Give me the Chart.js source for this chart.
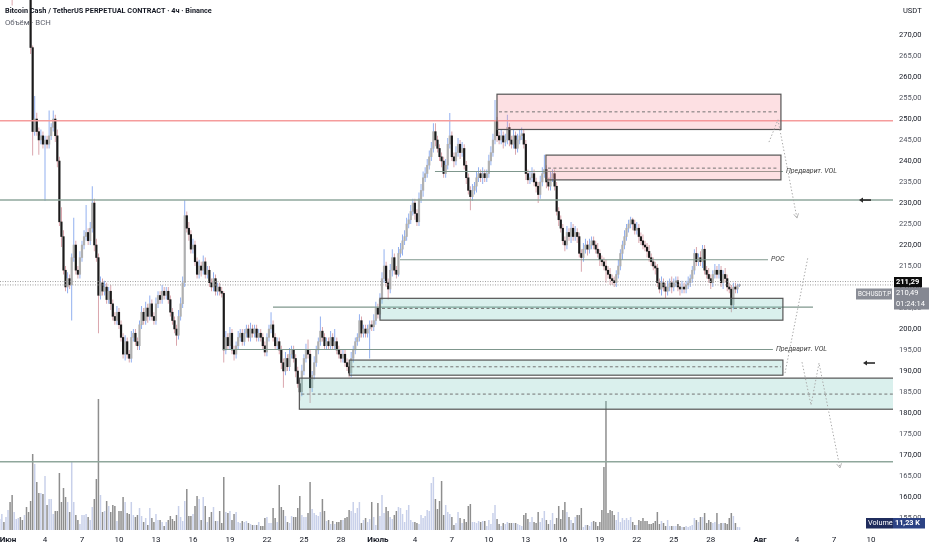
<!DOCTYPE html>
<html>
<head>
<meta charset="utf-8">
<title>BCHUSDT.P 4h</title>
<script src="https://cdn.jsdelivr.net/npm/chart.js@4.4.1/dist/chart.umd.min.js"></script>
<style>
  html, body { margin: 0; padding: 0; background: #fff; overflow: hidden; }
  canvas { display: block; }
</style>
</head>
<body>
<canvas id="c" width="932" height="550" style="width:932px;height:550px"></canvas>
<script>
/* BCHUSDT.P perpetual, 4h candles, 31 May → 30 Jul, with the zone drawings on top.
   Time is counted in days from 1 June 00:00; candle i sits at T0 + i * STEP. */
const FONT = "Roboto, 'Noto Sans', sans-serif";
const T0 = -2 / 3;        // first candle: 31 May 08:00
const STEP = 1 / 6;       // 4 hours
const firstOpen = 284;

// closes (the first 15 candles sit above the visible range)
const closes = [
  286, 287, 285, 288, 289, 286, 283, 284, 286, 287,
  285, 284, 286, 285, 282, 267, 247, 250, 247, 245,
  246, 244, 245, 244, 246, 248, 250, 246, 240, 225.5,
  222, 214, 210, 212, 210.5, 217, 220, 214, 213, 217,
  220, 222, 223, 221, 224, 230, 220, 217, 208, 211,
  209, 210, 207, 209, 206, 203, 202, 204, 201, 198,
  194, 197, 194, 193, 198, 199, 197, 196, 201, 204,
  202, 205, 203, 206, 203, 202, 206, 208, 207, 209,
  208, 209, 207, 204, 202, 200, 198.5, 203, 206, 211,
  227, 224, 222.5, 219, 220, 216, 213, 215, 214, 216,
  213, 214, 211, 210, 212, 209, 210, 209, 208.5, 195,
  198, 196, 199, 195, 194, 196, 198, 199, 197, 199,
  200, 198, 200, 199, 200, 198, 199, 198, 196, 194.5,
  198, 200, 201, 198, 196, 197, 195, 192, 190, 193,
  191, 194, 195, 193, 190, 187, 185, 190, 193, 195,
  194, 186, 189, 192, 195, 197, 199.5, 198, 196, 197,
  196, 198, 196, 197, 195, 194, 193, 194, 192, 191,
  189.5, 193, 195, 197, 198, 202, 199, 200, 199, 200,
  201, 200.5, 202, 205, 203.5, 207, 212, 215, 211, 209.5,
  214, 217, 214, 213, 218, 219, 221, 222, 225, 226,
  228, 230, 227.5, 225.5, 231, 233, 236, 237, 239, 241,
  243, 247, 245, 243, 241, 240, 237, 239, 244, 246,
  241, 240, 242, 244, 242, 243, 239, 236, 233, 231.5,
  233, 234, 236, 237, 236, 237, 236, 237, 240, 242,
  245, 249.5, 246, 245, 246, 244.5, 245, 248, 245, 244,
  246, 243, 245, 246, 246.5, 244, 237, 235.5, 236, 237,
  235, 234, 232, 235, 237, 238, 235, 234, 236, 237,
  234, 228, 226, 224, 221, 220, 223, 222, 224, 222,
  223, 222, 218, 217, 219, 220, 219, 220, 221, 220,
  219, 218, 216.5, 216, 215, 214, 213, 212, 211.5, 211,
  213, 215, 218, 220, 222, 224, 225, 226, 225, 223.5,
  224, 222, 221, 220, 219.5, 218.5, 217, 216, 215, 214.5,
  211, 209.5, 211, 210, 209, 210, 211, 210, 211, 211.5,
  210, 209.5, 210, 209.5, 210.5, 211, 212, 214, 218, 216,
  217, 216, 219, 214, 213, 212, 211, 213, 214, 213,
  214, 211, 213, 212, 210, 209.5, 205.7, 210, 209.5, 210.3,
  210.49
];

// wick lengths beyond the body, in USDT
const wickUp = [
  1, 1.5, 1, 1, 2, 1, 1, 1.5, 1, 1,
  1, 1, 1.5, 1, 1, 1, 0.5, 5.5, 1.5, 1,
  1.5, 1, 1, 1, 6, 1, 2, 1, 1.5, 1,
  3.5, 1.5, 1, 1.5, 1, 1, 6.5, 1, 1, 1.5,
  1, 1.5, 6.5, 1, 1.5, 4, 1, 1.5, 1, 1.5,
  1, 1.5, 1, 1, 1.5, 1, 1, 1.5, 1, 1,
  1, 1.5, 1, 1, 1.5, 1, 1, 1, 1, 1.5,
  1, 1.5, 1, 2, 1, 1, 1.5, 1, 1, 1.5,
  1, 1, 1, 1, 1, 1, 1, 1.5, 1.5, 1.5,
  3.7, 1, 1.5, 1, 1.5, 1, 1, 1.5, 1, 1.5,
  1, 1, 1, 1, 1.5, 1, 1, 1, 1, 0.5,
  1.5, 1, 1.5, 1, 1, 1, 1.5, 1, 1, 1,
  1, 1, 1.5, 1, 1, 1, 1, 1, 1, 1,
  1, 1, 3, 1, 1, 1, 1, 1, 1, 1.5,
  1, 1.5, 1, 1, 1, 1, 1, 1.5, 1, 1.5,
  2.5, 1, 1, 1.5, 1, 1, 3.5, 1, 1, 1,
  1, 1.5, 1, 3, 1, 1, 1, 1, 1, 1,
  1, 1.5, 1, 1, 1, 1.5, 1, 1, 1, 1,
  1, 1, 1.5, 1.5, 1, 1.5, 1.5, 4, 1, 1,
  1.5, 2, 1, 1, 1.5, 1.5, 1.5, 1.5, 1.5, 1.5,
  1.5, 1, 1, 1, 1.5, 1.5, 1.5, 1.5, 1.5, 1.5,
  1.5, 2, 2, 1, 1, 1, 1, 1.5, 1.5, 5.4,
  1, 1, 1.5, 1.5, 1, 1.5, 1, 1, 1, 1,
  1.5, 1, 1.5, 1.5, 1, 1.5, 1, 1, 1.5, 1.5,
  1.5, 5, 1, 1, 1.5, 1, 1.5, 3, 1, 1,
  1.5, 1, 1.5, 1.5, 1.5, 1, 1, 1, 1.5, 1.5,
  1, 1, 1, 1.5, 1.5, 3.5, 1, 1, 1.5, 1,
  1, 1, 1, 1, 1, 1, 1.5, 1, 1.5, 1,
  1.5, 1, 1, 1, 1.5, 1.5, 1, 1.5, 1, 1,
  1, 1.5, 1, 1, 1, 1.5, 1, 1.5, 1, 1,
  1, 1.5, 1, 1, 1.5, 1, 1, 0.7, 0.5, 1,
  1.5, 1, 1, 1.5, 1, 1, 1.5, 1, 1, 1,
  1, 1, 1.5, 1, 1, 1.5, 1, 1.5, 1, 1,
  1, 1, 1.5, 1, 1, 1.5, 1, 1, 1, 1.5,
  1, 1.5, 1, 1, 1, 1.5, 1, 1, 1.5, 1,
  1.5, 1, 1, 1.5, 1, 1, 1, 1, 1, 0.5,
  0.3
];
const wickDn = [
  1, 1, 1.5, 1, 1, 1, 6, 1, 1, 1,
  1.5, 1, 1, 1, 1.5, 1.5, 5.7, 1, 1, 3.5,
  1, 1, 13.5, 1, 1, 1, 1, 1.5, 1.5, 1,
  2.5, 1, 1, 1.5, 1, 8.5, 1, 1, 1, 1,
  1, 1, 1, 1, 1, 1, 1.5, 1, 9, 1,
  1, 1, 1, 1, 1.5, 1, 1, 1, 1, 1,
  1, 1.5, 1, 1, 1, 1, 1, 1, 1, 1,
  1, 1, 1.5, 1, 1, 1, 1, 1, 1, 1,
  1, 1, 1, 1, 1, 1, 2.5, 1, 1, 1,
  1, 1, 1.5, 1, 1, 1, 1, 1, 1.5, 1,
  1, 1, 1, 1, 1, 1, 1, 1, 1, 3,
  1, 1, 1, 1, 1.5, 1, 1, 1, 1, 1,
  1, 1, 1, 1, 1, 1, 1, 1, 1, 1,
  1, 1, 1, 1, 1, 1, 1, 1.5, 4, 1,
  1, 1, 1, 1, 1.5, 1, 2, 1, 1, 1,
  1, 3.6, 1, 1, 1, 1, 1, 1, 1, 1,
  1, 1, 1, 1, 1, 1, 1, 1, 1, 1,
  1, 1, 1, 1, 1, 1, 1, 1, 1, 1,
  7, 1, 1, 1, 1, 1, 1, 1, 1, 2.5,
  1, 1.5, 1, 1, 0.5, 1, 1.5, 1, 1, 1,
  1, 1, 1.5, 1, 1, 1, 1.5, 1, 1, 1,
  1, 1, 1.5, 1, 1, 1.5, 1, 1, 1, 1,
  1, 1.5, 1, 1, 1.5, 1, 1, 1.5, 1, 3.2,
  1, 1, 1.5, 1, 1, 1.5, 1, 1, 1, 1,
  1, 1, 1.5, 1, 1, 1.5, 1, 1, 1.5, 1,
  1, 1.5, 1, 1, 1, 1, 1.5, 1, 1, 1,
  1, 1.5, 2, 1, 1, 1, 1.5, 1, 1, 1,
  1, 1, 1.5, 1, 1, 1.5, 1, 1, 1.5, 1,
  1, 1.5, 1, 3.4, 1, 1, 1.5, 1, 1, 1,
  1, 1, 1.5, 1, 1, 3, 1, 1.5, 1, 1,
  1, 1, 1, 1.5, 1, 1, 1, 1, 1.5, 1,
  1, 1.5, 1, 1, 1, 1.5, 1, 1, 1, 1.5,
  1, 1, 1.5, 1, 1.6, 1, 1, 1.5, 1, 1,
  1, 1.5, 1, 1, 1, 1, 1, 1, 1, 1,
  1, 1, 1.5, 1, 1, 1, 1.5, 1, 1, 1,
  1, 1, 1.5, 1, 1, 1, 1.7, 1, 1, 1,
  0.3
];

// volume per candle, thousands of BCH
const volumeK = [
  44, 64, 32, 52, 80, 112, 140, 72, 44, 48,
  52, 40, 60, 92, 72, 116, 304, 264, 192, 148,
  148, 144, 216, 100, 124, 124, 64, 76, 76, 228,
  112, 168, 132, 112, 72, 272, 112, 60, 40, 24,
  60, 60, 64, 52, 40, 92, 124, 204, 524, 140,
  72, 76, 116, 96, 72, 100, 96, 36, 76, 76,
  132, 112, 68, 64, 112, 60, 52, 60, 88, 56,
  32, 48, 20, 88, 48, 32, 64, 40, 40, 32,
  16, 32, 40, 56, 44, 36, 60, 96, 52, 36,
  116, 164, 56, 56, 64, 96, 136, 124, 40, 132,
  96, 32, 52, 72, 92, 36, 36, 76, 28, 212,
  72, 68, 76, 40, 64, 72, 32, 28, 36, 32,
  36, 28, 24, 20, 20, 20, 32, 16, 16, 48,
  52, 28, 28, 88, 48, 32, 180, 92, 80, 56,
  32, 28, 56, 52, 52, 88, 136, 60, 52, 52,
  68, 192, 84, 68, 60, 56, 72, 124, 76, 36,
  40, 24, 36, 24, 32, 32, 40, 40, 48, 52,
  80, 76, 112, 68, 88, 112, 28, 40, 48, 32,
  44, 112, 52, 20, 108, 56, 140, 68, 92, 76,
  52, 44, 60, 76, 92, 88, 64, 32, 80, 100,
  40, 32, 32, 28, 24, 60, 48, 56, 80, 76,
  188, 212, 124, 84, 116, 196, 60, 100, 72, 64,
  52, 20, 28, 72, 48, 28, 44, 32, 96, 104,
  32, 32, 28, 36, 32, 36, 36, 16, 40, 24,
  68, 100, 44, 24, 16, 28, 24, 32, 28, 28,
  28, 28, 24, 20, 16, 60, 68, 44, 32, 52,
  32, 28, 72, 32, 48, 76, 40, 24, 40, 68,
  24, 48, 96, 44, 80, 112, 72, 52, 40, 28,
  52, 60, 60, 88, 12, 20, 20, 16, 32, 36,
  32, 16, 32, 80, 252, 516, 68, 80, 76, 60,
  40, 72, 32, 48, 40, 48, 40, 52, 32, 20,
  20, 40, 36, 48, 36, 36, 24, 24, 28, 36,
  72, 24, 36, 28, 16, 40, 16, 16, 16, 16,
  24, 16, 12, 12, 16, 12, 16, 20, 48, 40,
  32, 52, 52, 68, 28, 40, 32, 28, 32, 68,
  24, 28, 28, 28, 24, 48, 68, 56, 28, 12,
  11.23
];

// time axis: days from 1 June and their labels
const tickDays   = [0, 3, 6, 9, 12, 15, 18, 21, 24, 27, 30, 33, 36, 39, 42, 45, 48, 51, 54, 57, 61, 64, 67, 70];
const tickLabels = ["Июн", "4", "7", "10", "13", "16", "19", "22", "25", "28",
                    "Июль", "4", "7", "10", "13", "16", "19", "22", "25", "28",
                    "Авг", "4", "7", "10"];
const monthTicks = [0, 10, 20];
const priceTicks = [155, 160, 165, 170, 175, 180, 185, 190, 195, 200, 205, 210,
                    215, 220, 225, 230, 235, 240, 245, 250, 255, 260, 265, 270];

// drawings (days, price)
const redLevel = 249.6;
const greenLevels = [230.7, 168.4];
const zones = [            // [from, to, top, bottom, middle, side]
  [39.66, 62.69, 255.9, 247.5, 251.7, "supply"],
  [43.63, 62.69, 241.4, 235.5, 238.3, "supply"],
  [30.17, 62.85, 207.3, 202.1, 204.9, "demand"],
  [27.68, 62.85, 192.6, 189.0, 191.0, "demand"],
  [23.63, 80.00, 188.3, 180.9, 184.5, "demand"],
];
const rays = [             // [from, to, price, label]
  [34.63, 62.85, 237.5, "Предварит. VOL"],
  [31.79, 61.64, 216.5, "POC"],
  [21.49, 65.29, 205.2, ""],
  [17.44, 62.04, 195.1, "Предварит. VOL"],
];
const paths = [            // dotted projections, [points, arrow at end]
  [[[61.72, 244.5], [62.45, 249.8], [63.99, 226.4]], true],
  [[[63.02, 189.5], [64.88, 217.1]], false],
  [[[64.40, 192.1], [65.13, 181.9], [65.78, 191.9], [67.48, 166.9]], true],
];
const alertPrices = [230.7, 191.9];
const markPrice = 211.29;
const countdown = "01:24:14";

const VIEW_FROM = -0.65, VIEW_TO = 71.78;
const PRICE_MIN = 152.14, PRICE_MAX = 278.33;
const VOL_MAX = 2120;

const N = closes.length;
const opens = closes.map((c, i) => (i ? closes[i - 1] : firstOpen));
const isUp = closes.map((c, i) => c >= opens[i]);
const xs = closes.map((c, i) => T0 + i * STEP);
const highs = closes.map((c, i) => Math.max(c, opens[i]) + wickUp[i]);
const lows = closes.map((c, i) => Math.min(c, opens[i]) - wickDn[i]);
const fmt = v => v.toFixed(2).replace(".", ",");

const UP_BODY = "#b0b0b0", DN_BODY = "#1b1b1b";
const UP_WICK = "#86a7ee", DN_WICK = "#d69ca4";
const UP_VOL = "#c8d0ea", DN_VOL = "#8e8e8e";

function seg(ctx, x1, y1, x2, y2) {
  ctx.beginPath(); ctx.moveTo(x1, y1); ctx.lineTo(x2, y2); ctx.stroke();
}
function tag(ctx, x, y, w, h, bg, lines, font) {
  ctx.fillStyle = bg;
  ctx.fillRect(x, y, w, h);
  ctx.fillStyle = "#fff";
  ctx.font = font;
  ctx.textAlign = "left";
  ctx.textBaseline = "middle";
  lines.forEach((t, k) => ctx.fillText(t, x + 2, y + 5.5 + k * 11));
}

const overlay = {
  id: "overlay",
  afterDatasetsDraw(chart) {
    const { ctx, chartArea: a, scales: { x, y } } = chart;
    const X = d => x.getPixelForValue(d), Y = p => y.getPixelForValue(p);
    ctx.save();
    ctx.beginPath(); ctx.rect(a.left, a.top, a.right - a.left, a.bottom - a.top); ctx.clip();

    // last price / mark price dotted lines
    ctx.strokeStyle = "#9c9c9c"; ctx.lineWidth = 1; ctx.setLineDash([1, 1.5]);
    [markPrice, closes[N - 1]].forEach(p => seg(ctx, a.left, Y(p), a.right, Y(p)));

    // full-width levels
    ctx.setLineDash([]);
    ctx.strokeStyle = "#f59c9c"; ctx.lineWidth = 1.5;
    seg(ctx, a.left, Y(redLevel), a.right, Y(redLevel));
    ctx.strokeStyle = "#8fa79c"; ctx.lineWidth = 1.6;
    greenLevels.forEach(p => seg(ctx, a.left, Y(p), a.right, Y(p)));

    // rays with labels
    ctx.font = "italic 7px " + FONT; ctx.textBaseline = "middle"; ctx.textAlign = "left";
    rays.forEach(([d1, d2, p, label]) => {
      ctx.strokeStyle = "#7f978d"; ctx.lineWidth = 1.1;
      seg(ctx, X(d1), Y(p), X(d2), Y(p));
      if (label) { ctx.fillStyle = "#3c3c3c"; ctx.fillText(label, X(d2) + 3, Y(p)); }
    });

    // zones
    zones.forEach(([d1, d2, top, bot, mid, side]) => {
      const x1 = X(d1), x2 = Math.min(X(d2), a.right + 3), y1 = Y(top), y2 = Y(bot);
      ctx.fillStyle = side === "supply" ? "rgba(247,140,152,0.27)" : "rgba(118,200,188,0.27)";
      ctx.fillRect(x1, y1, x2 - x1, y2 - y1);
      ctx.setLineDash([]); ctx.strokeStyle = "#555"; ctx.lineWidth = 1.2;
      ctx.strokeRect(x1, y1, x2 - x1, y2 - y1);
      ctx.setLineDash([3, 2.5]); ctx.strokeStyle = "#747474"; ctx.lineWidth = 1;
      seg(ctx, x1 + 2, Y(mid), x2 - 2, Y(mid));
    });

    // dotted projections
    paths.forEach(([pts, arrow]) => {
      ctx.setLineDash([1.4, 2]); ctx.strokeStyle = "#a9a9a9"; ctx.lineWidth = 1;
      ctx.beginPath();
      pts.forEach(([d, p], k) => (k ? ctx.lineTo(X(d), Y(p)) : ctx.moveTo(X(d), Y(p))));
      ctx.stroke();
      if (arrow) {
        const [d0, p0] = pts[pts.length - 2], [d1, p1] = pts[pts.length - 1];
        const ex = X(d1), ey = Y(p1), ang = Math.atan2(ey - Y(p0), ex - X(d0));
        ctx.setLineDash([]); ctx.strokeStyle = "#b5b5b5";
        [-0.5, 0.5].forEach(s => seg(ctx, ex, ey, ex - 5 * Math.cos(ang + s), ey - 5 * Math.sin(ang + s)));
      }
    });

    // alert arrows next to the price scale
    ctx.setLineDash([]); ctx.strokeStyle = "#2a2a2a"; ctx.fillStyle = "#2a2a2a"; ctx.lineWidth = 1.6;
    alertPrices.forEach((p, k) => {
      const ax = a.right - 29 + k * 4, ay = Y(p);
      seg(ctx, ax - 2, ay, ax + 7, ay);
      ctx.beginPath(); ctx.moveTo(ax - 5, ay); ctx.lineTo(ax - 1, ay - 2.6); ctx.lineTo(ax - 1, ay + 2.6);
      ctx.closePath(); ctx.fill();
    });
    ctx.restore();
  },
  afterDraw(chart) {
    const { ctx, chartArea: a, scales: { y } } = chart;
    ctx.save();
    // header
    ctx.textAlign = "left"; ctx.textBaseline = "middle";
    ctx.fillStyle = "#131722"; ctx.font = "bold 7.3px " + FONT;
    ctx.fillText("Bitcoin Cash / TetherUS PERPETUAL CONTRACT · 4ч · Binance", 5, 11);
    ctx.fillStyle = "#5d606b"; ctx.font = "7.8px " + FONT;
    ctx.fillText("Объём · BCH", 5, 23);
    ctx.fillStyle = "#131722"; ctx.font = "7.5px " + FONT;
    ctx.fillText("USDT", a.right + 10, 11);

    // price tags
    const yMark = Math.round(y.getPixelForValue(markPrice));
    tag(ctx, a.right + 1, yMark - 5, 28, 10.5, "#0c0c0c", [fmt(markPrice)], "bold 7.5px " + FONT);
    const gTop = yMark + 5.5;
    tag(ctx, a.right + 1, gTop, 35, 22, "#858892", [fmt(closes[N - 1]), countdown], "7.5px " + FONT);
    tag(ctx, a.right - 37, gTop + 1, 36, 11, "#8a8d96", ["BCHUSDT.P"], "6.3px " + FONT);

    // volume legend
    const vb = a.bottom - 12;
    tag(ctx, a.right - 27, vb, 27, 10.5, "#1f2c5c", ["Volume"], "7.3px " + FONT);
    tag(ctx, a.right, vb, 32, 10.5, "#2c4284", [volumeK[N - 1].toFixed(2).replace(".", ",") + " K"], "bold 7.3px " + FONT);
    ctx.restore();
  }
};

Chart.defaults.font.family = FONT;

new Chart(document.getElementById("c"), {
  type: "bar",
  data: {
    datasets: [
      {
        label: "body", order: 0, yAxisID: "y", grouped: false,
        data: xs.map((d, i) => ({ x: d, y: [opens[i], closes[i]] })),
        backgroundColor: isUp.map(u => (u ? UP_BODY : DN_BODY)),
        barThickness: 1.7, minBarLength: 1, borderWidth: 0, inflateAmount: 0.25,
      },
      {
        label: "wick", order: 1, yAxisID: "y", grouped: false,
        data: xs.map((d, i) => ({ x: d, y: [lows[i], highs[i]] })),
        backgroundColor: isUp.map(u => (u ? UP_WICK : DN_WICK)),
        barThickness: 0.9, borderWidth: 0, inflateAmount: 0,
      },
      {
        label: "volume", order: 2, yAxisID: "yv", grouped: false,
        data: xs.map((d, i) => ({ x: d, y: volumeK[i] })),
        backgroundColor: isUp.map(u => (u ? UP_VOL : DN_VOL)),
        barThickness: 1.5, borderWidth: 0, inflateAmount: 0,
      },
    ],
  },
  options: {
    responsive: false, animation: false, events: [],
    layout: { padding: 0, autoPadding: false },
    plugins: { legend: { display: false }, tooltip: { enabled: false } },
    scales: {
      x: {
        type: "linear", min: VIEW_FROM, max: VIEW_TO, offset: false,
        grid: { display: false, drawTicks: false }, border: { display: false },
        afterBuildTicks: s => { s.ticks = tickDays.map(v => ({ value: v })); },
        afterFit: s => { s.height = 20; s.paddingLeft = 0; s.paddingRight = 0; },
        ticks: {
          autoSkip: false, maxRotation: 0, minRotation: 0, padding: 5, color: "#131722",
          font: c => ({ size: 8, weight: monthTicks.includes(c.index) ? "bold" : "normal" }),
          callback: (v, i) => tickLabels[i],
        },
      },
      y: {
        position: "right", min: PRICE_MIN, max: PRICE_MAX,
        grid: { display: false, drawTicks: false }, border: { display: false },
        afterBuildTicks: s => { s.ticks = priceTicks.map(v => ({ value: v })); },
        afterFit: s => { s.width = 39; s.paddingTop = 0; s.paddingBottom = 0; },
        ticks: {
          padding: 6, font: { size: 7.5 },
          color: c => (c.tick && c.tick.value % 10 === 0 ? "#131722" : "#50535e"),
          callback: v => fmt(v),
        },
      },
      yv: { display: false, min: 0, max: VOL_MAX },
    },
  },
  plugins: [overlay],
});
</script>
</body>
</html>
